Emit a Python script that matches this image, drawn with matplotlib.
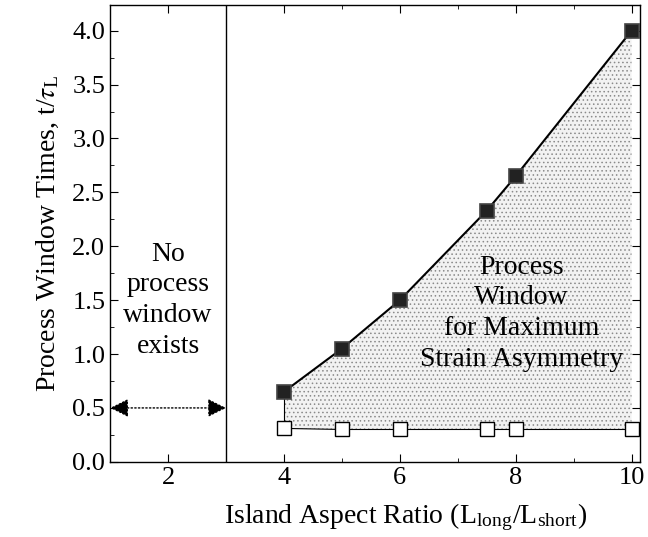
import matplotlib
matplotlib.use("Agg")
import matplotlib.pyplot as plt
from matplotlib.ticker import MultipleLocator, FormatStrFormatter

plt.rcParams['font.family'] = ['Liberation Serif', 'DejaVu Serif']
plt.rcParams['mathtext.fontset'] = 'stix'
plt.rcParams['hatch.linewidth'] = 0.6

# aspect ratios and window bounds
ratio = [4, 5, 6, 7.5, 8, 10]
upper_t = [0.65, 1.05, 1.5, 2.33, 2.65, 4.0]
lower_t = [0.31, 0.30, 0.30, 0.30, 0.30, 0.30]
no_window_edge = 3

fig = plt.figure(figsize=(6.48, 5.37), dpi=100)
ax = fig.add_axes([0.170, 0.140, 0.818, 0.851])

ax.fill_between(ratio, lower_t, upper_t, facecolor='#f2f2f2',
                edgecolor='#8a8a8a', hatch='....', linewidth=0)
ax.plot([ratio[0], ratio[0]], [lower_t[0], upper_t[0]], color='black', lw=0.8)
ax.plot(ratio, upper_t, '-s', color='black', lw=1.5, ms=10,
        mfc='#222222', mec='#444444', mew=1.2)
ax.plot(ratio, lower_t, '-s', color='black', lw=0.8, ms=10,
        mfc='white', mec='black', mew=1.0)

ax.axvline(no_window_edge, color='black', lw=1.0)
ax.annotate('', xy=(1.0, 0.5), xytext=(no_window_edge, 0.5),
            arrowprops=dict(arrowstyle='<|-|>', color='black', lw=1.0,
                            linestyle=':', mutation_scale=28,
                            shrinkA=0, shrinkB=0))

ax.text(2, 1.5, 'No\nprocess\nwindow\nexists', ha='center', va='center',
        fontsize=20, linespacing=1.3)
ax.text(8.1, 1.38, 'Process\nWindow\nfor Maximum\nStrain Asymmetry', ha='center',
        va='center', fontsize=20, linespacing=1.3)

ax.set_xlim(1.0, 10.15)
ax.set_ylim(0, 4.24)
ax.xaxis.set_major_locator(MultipleLocator(2))
ax.xaxis.set_minor_locator(MultipleLocator(1))
ax.yaxis.set_major_locator(MultipleLocator(0.5))
ax.yaxis.set_minor_locator(MultipleLocator(0.25))
ax.yaxis.set_major_formatter(FormatStrFormatter('%.1f'))
ax.tick_params(which='both', direction='in', top=True, right=True, labelsize=19)
ax.tick_params(which='major', length=6)
ax.tick_params(which='minor', length=3)
for s in ax.spines.values():
    s.set_linewidth(1.0)

ax.set_xlabel(r'Island Aspect Ratio (L$_\mathregular{long}$/L$_\mathregular{short}$)',
              fontsize=20)
ax.xaxis.set_label_coords(0.558, -0.088)
ax.set_ylabel(r'Process Window Times, t/$\tau_\mathregular{L}$', fontsize=20, labelpad=8)

fig.savefig('out.png', dpi=100)
